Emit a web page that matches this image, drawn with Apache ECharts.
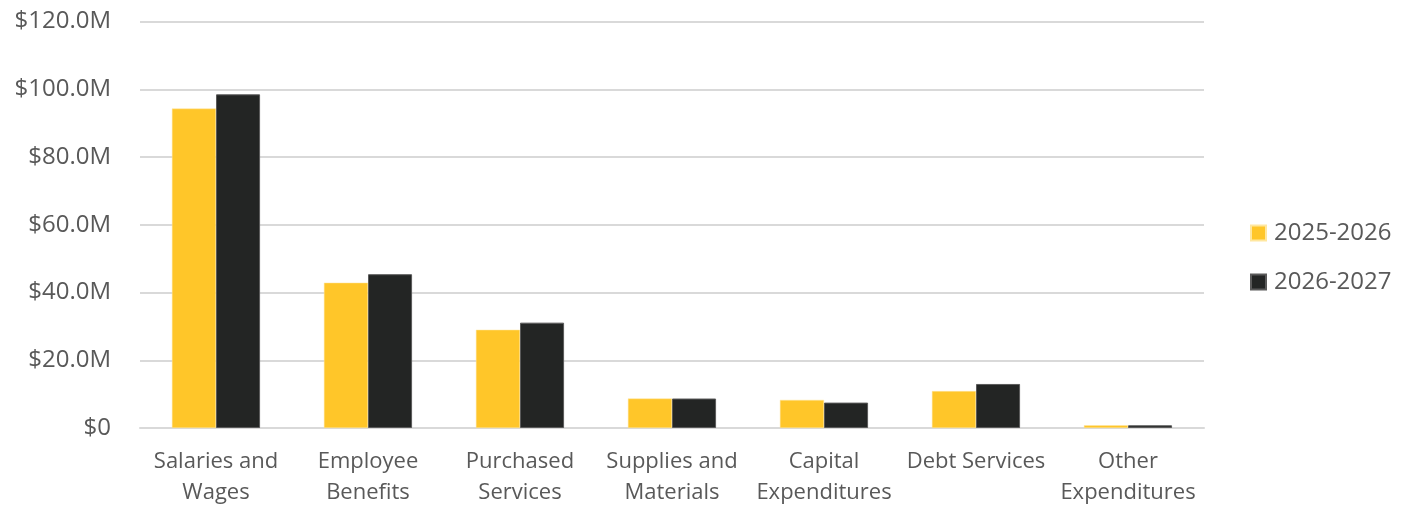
<!DOCTYPE html>
<html>
<head>
<meta charset="utf-8">
<script src="https://cdn.jsdelivr.net/npm/echarts@6/dist/echarts.min.js"></script>
<style>
  html, body { margin: 0; padding: 0; background: #ffffff; }
  #chart { width: 1415px; height: 508px; }
</style>
</head>
<body>
<div id="chart"></div>
<script>
// Expenditure categories (x axis)
const categories = [
  'Salaries and\nWages',
  'Employee\nBenefits',
  'Purchased\nServices',
  'Supplies and\nMaterials',
  'Capital\nExpenditures',
  'Debt Services',
  'Other\nExpenditures'
];

// Values in millions of dollars
const budget2025 = [94.3, 42.9, 29.0, 8.7, 8.3, 10.9, 0.8];
const budget2026 = [98.5, 45.4, 31.1, 8.7, 7.5, 13.0, 0.8];

const seriesNames = ['2025-2026', '2026-2027'];

// Value axis ticks (millions)
const yMin = 0;
const yMax = 120;
const yStep = 20;

const textColor = '#595959';
const gridColor = '#d9d9d9';
const fontFamily = '"Open Sans", "Noto Sans", sans-serif';

function moneyLabel(v) {
  return v === 0 ? '$0' : '$' + v.toFixed(1) + 'M';
}

const chart = echarts.init(document.getElementById('chart'), null, { renderer: 'canvas' });

chart.setOption({
  animation: false,
  backgroundColor: '#ffffff',
  textStyle: { fontFamily: fontFamily },
  grid: {
    left: 140,
    right: 211,
    top: 21.5,
    bottom: 79,
    containLabel: false
  },
  legend: {
    orient: 'vertical',
    left: 1245,
    top: 216,
    itemWidth: 15,
    itemHeight: 15,
    itemGap: 25,
    icon: 'rect',
    textStyle: {
      color: textColor,
      fontSize: 24,
      lineHeight: 24,
      fontFamily: fontFamily,
      padding: [0, 0, 0, 3]
    },
    data: seriesNames
  },
  xAxis: {
    type: 'category',
    data: categories,
    axisLine: { show: true, lineStyle: { color: gridColor, width: 2 } },
    axisTick: { show: false },
    axisLabel: {
      color: textColor,
      fontSize: 22,
      lineHeight: 31,
      margin: 18,
      interval: 0,
      fontFamily: fontFamily
    }
  },
  yAxis: {
    type: 'value',
    min: yMin,
    max: yMax,
    interval: yStep,
    axisLine: { show: false },
    axisTick: { show: false },
    splitLine: { lineStyle: { color: gridColor, width: 2 } },
    axisLabel: {
      color: textColor,
      fontSize: 24,
      margin: 29,
      fontFamily: fontFamily,
      formatter: moneyLabel
    }
  },
  series: [
    {
      name: seriesNames[0],
      type: 'bar',
      data: budget2025,
      barGap: '0%',
      barCategoryGap: '42%',
      itemStyle: { color: '#FFC629', borderColor: '#ffe7a0', borderWidth: 0.5 }
    },
    {
      name: seriesNames[1],
      type: 'bar',
      data: budget2026,
      barGap: '0%',
      barCategoryGap: '42%',
      itemStyle: { color: '#232524', borderColor: '#5a5a5a', borderWidth: 1 }
    }
  ]
});
</script>
</body>
</html>
